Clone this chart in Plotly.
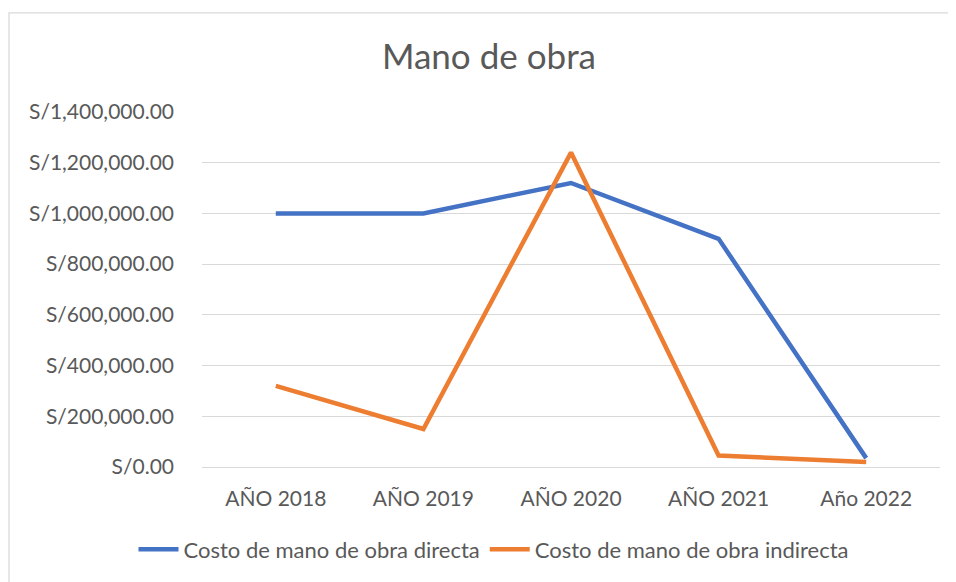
import plotly.graph_objects as go

categories = ["AÑO 2018", "AÑO 2019", "AÑO 2020", "AÑO 2021", "Año 2022"]
directa = [1000000, 1000000, 1120000, 900000, 35000]
indirecta = [320000, 150000, 1240000, 45000, 20000]
tick_vals = [0, 200000, 400000, 600000, 800000, 1000000, 1200000, 1400000]
tick_text = ["S/0.00", "S/200,000.00", "S/400,000.00", "S/600,000.00",
             "S/800,000.00", "S/1,000,000.00", "S/1,200,000.00", "S/1,400,000.00"]

FONT = "Lato, 'Open Sans', sans-serif"
GREY = "#595959"
OFF = 8  # page body margin

W, H = 956, 582 - OFF

fig = go.Figure()
fig.add_trace(go.Scatter(x=categories, y=directa, mode="lines",
                         name="Costo de mano de obra directa",
                         line=dict(color="#4472C4", width=4.5)))
fig.add_trace(go.Scatter(x=categories, y=indirecta, mode="lines",
                         name="Costo de mano de obra indirecta",
                         line=dict(color="#ED7D31", width=4.5)))

plot_left, plot_right, plot_top, plot_bottom = 202, 940, 112, 466.7

fig.update_layout(
    width=W, height=H,
    margin=dict(l=plot_left - OFF, r=W - (plot_right - OFF), t=plot_top - OFF,
                b=H - (plot_bottom - OFF)),
    paper_bgcolor="white", plot_bgcolor="white",
    font=dict(family=FONT, size=21, color=GREY),
    title=dict(text="Mano de obra", x=(489 - OFF) / W, xanchor="center",
               y=1 - (57 - OFF) / H, yanchor="middle", yref="container",
               font=dict(family=FONT, size=35, color=GREY)),
    showlegend=True,
    legend=dict(orientation="h", x=(494 - plot_left) / (plot_right - plot_left),
                xanchor="center", y=-(549 - plot_bottom) / (plot_bottom - plot_top),
                yanchor="middle", font=dict(family=FONT, size=22, color=GREY),
                itemwidth=40, tracegroupgap=0, bgcolor="rgba(0,0,0,0)"),
    xaxis=dict(type="category", range=[-0.5, 4.5], showgrid=False,
               showline=False, zeroline=False, ticks="",
               ticklabelstandoff=17, tickfont=dict(family=FONT, size=21, color=GREY)),
    yaxis=dict(range=[0, 1400000], tickvals=tick_vals, ticktext=tick_text,
               showgrid=True, gridcolor="#D9D9D9", gridwidth=1.3,
               zeroline=True, zerolinecolor="#D9D9D9", zerolinewidth=1.3,
               showline=False, ticks="", ticklabelstandoff=27,
               tickfont=dict(family=FONT, size=21, color=GREY)),
    shapes=[dict(type="rect", xref="paper", yref="paper",
                 x0=(9 - plot_left) / (plot_right - plot_left), x1=1.5,
                 y0=-0.5, y1=(plot_bottom - 13) / (plot_bottom - plot_top),
                 line=dict(color="#D9D9D9", width=1.3), fillcolor="rgba(0,0,0,0)",
                 layer="below")],
)

fig.write_html("out.html")
